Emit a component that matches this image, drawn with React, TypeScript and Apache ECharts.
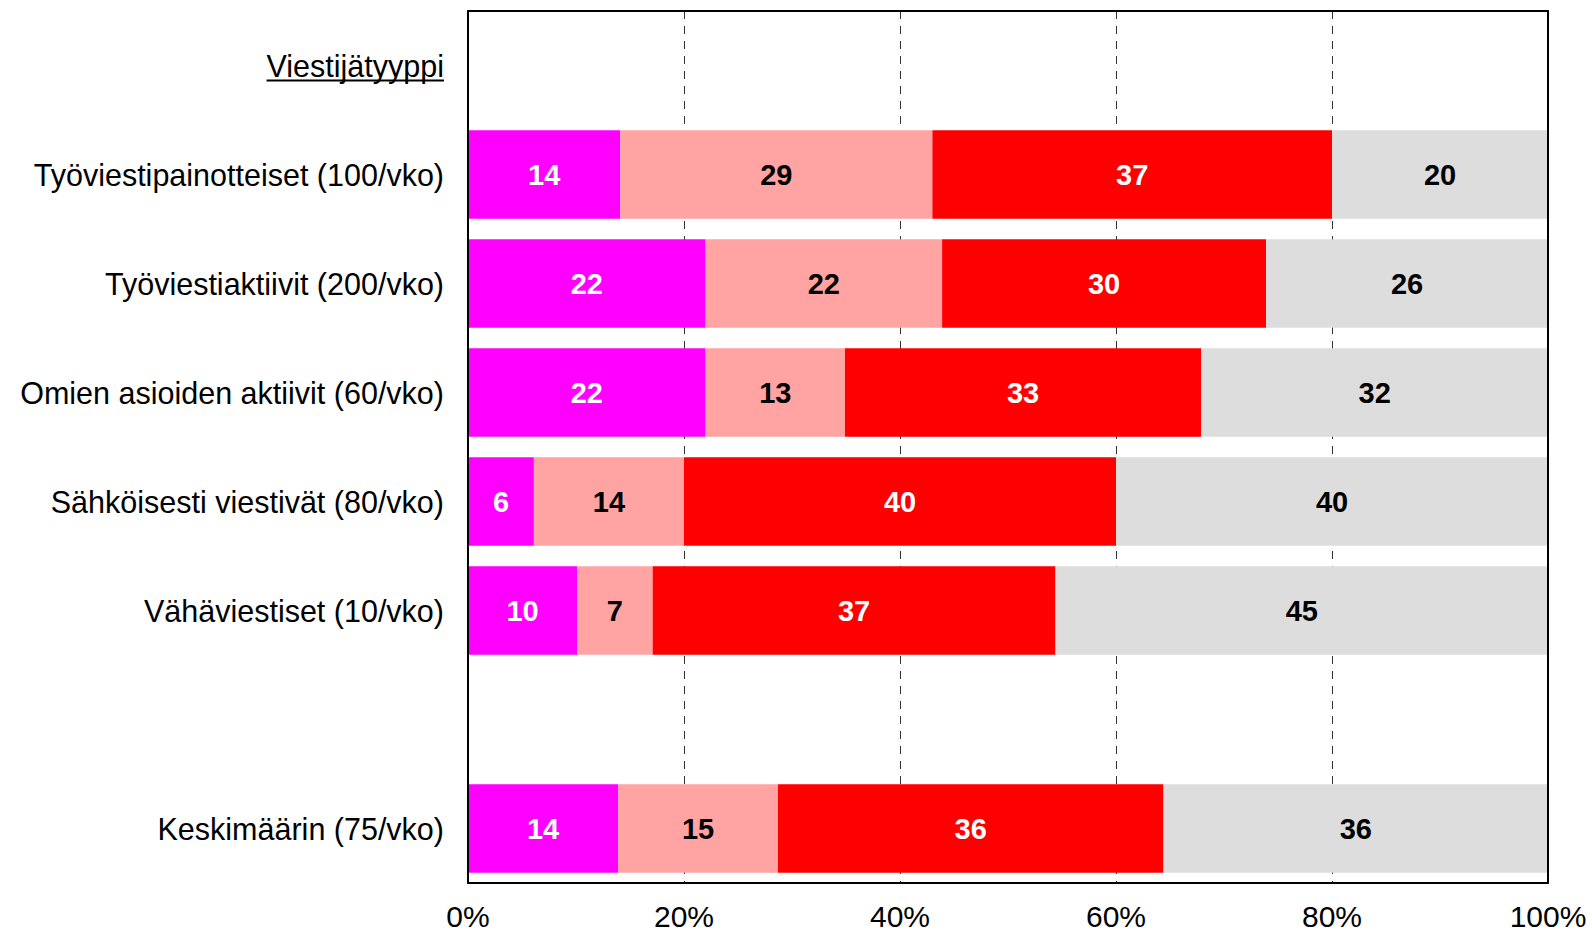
import React, { useEffect, useRef } from "react";
import * as echarts from "echarts";

const categories = [
  "Viestijätyyppi",
  "Työviestipainotteiset (100/vko)",
  "Työviestiaktiivit (200/vko)",
  "Omien asioiden aktiivit (60/vko)",
  "Sähköisesti viestivät (80/vko)",
  "Vähäviestiset (10/vko)",
  "",
  "Keskimäärin (75/vko)",
];

// bar lengths (percent of row)
const share1 = [null, 14.1, 22.0, 22.0, 6.1, 10.1, null, 13.9];
const share2 = [null, 28.9, 21.9, 12.9, 13.9, 7.0, null, 14.8];
const share3 = [null, 37.0, 30.0, 33.0, 40.0, 37.3, null, 35.7];
const share4 = [null, 20.0, 26.1, 32.1, 40.0, 45.6, null, 35.6];

// printed labels
const label1 = [null, 14, 22, 22, 6, 10, null, 14];
const label2 = [null, 29, 22, 13, 14, 7, null, 15];
const label3 = [null, 37, 30, 33, 40, 37, null, 36];
const label4 = [null, 20, 26, 32, 40, 45, null, 36];

const xTicks = [0, 20, 40, 60, 80, 100];

const FONT = '"Liberation Sans", Arial, Helvetica, sans-serif';
const GRID_LEFT = 468;
const GRID_RIGHT = 44;
const GRID_TOP = 11;
const GRID_BOTTOM = 47;
const LABEL_MARGIN = 24;
const CAT_FONT = 30.5;

const seriesDefs = [
  { name: "s1", data: share1, labels: label1, color: "#FF00FF", text: "#FFFFFF" },
  { name: "s2", data: share2, labels: label2, color: "#FFA3A3", text: "#000000" },
  { name: "s3", data: share3, labels: label3, color: "#FF0000", text: "#FFFFFF" },
  { name: "s4", data: share4, labels: label4, color: "#DDDDDD", text: "#000000" },
];

export default function App() {
  const ref = useRef<HTMLDivElement>(null);

  useEffect(() => {
    if (!ref.current) return;
    const chart = echarts.init(ref.current, null, { renderer: "svg" });

    const frameAxisX = (position: "top" | "bottom") => ({
      type: "value",
      position,
      min: xTicks[0],
      max: xTicks[xTicks.length - 1],
      interval: 20,
      z: 10,
      axisLine: { show: true, onZero: false, lineStyle: { color: "#000", width: 2 } },
      axisTick: { show: false },
      axisLabel: { show: false },
      splitLine: { show: false },
    });

    chart.setOption({
      animation: false,
      backgroundColor: "#FFFFFF",
      grid: {
        left: GRID_LEFT,
        right: GRID_RIGHT,
        top: GRID_TOP,
        bottom: GRID_BOTTOM,
        containLabel: false,
      },
      xAxis: [
        {
          type: "value",
          position: "bottom",
          min: xTicks[0],
          max: xTicks[xTicks.length - 1],
          interval: 20,
          axisLine: { show: false },
          axisTick: { show: false },
          axisLabel: {
            formatter: "{value}%",
            color: "#000",
            fontFamily: FONT,
            fontSize: 30,
            margin: 18,
          },
          splitLine: {
            show: true,
            lineStyle: { color: "#333", width: 1, type: [8, 7] },
          },
        },
        frameAxisX("bottom"),
        frameAxisX("top"),
      ],
      yAxis: [
        {
          type: "category",
          data: categories,
          inverse: true,
          position: "left",
          z: 10,
          axisLine: { show: true, onZero: false, lineStyle: { color: "#000", width: 2 } },
          axisTick: { show: false },
          axisLabel: {
            color: "#000",
            fontFamily: FONT,
            fontSize: CAT_FONT,
            margin: LABEL_MARGIN,
            interval: 0,
          },
          splitLine: { show: false },
        },
        {
          type: "category",
          data: categories,
          inverse: true,
          position: "right",
          z: 10,
          axisLine: { show: true, onZero: false, lineStyle: { color: "#000", width: 2 } },
          axisTick: { show: false },
          axisLabel: { show: false },
          splitLine: { show: false },
        },
      ],
      series: seriesDefs.map((s) => ({
        name: s.name,
        type: "bar",
        stack: "total",
        xAxisIndex: 0,
        yAxisIndex: 0,
        barCategoryGap: "19%",
        data: s.data,
        itemStyle: { color: s.color },
        label: {
          show: true,
          position: "inside",
          color: s.text,
          fontFamily: FONT,
          fontWeight: "bold",
          fontSize: 29,
          formatter: (p: any) => {
            const v = s.labels[p.dataIndex];
            return v === null || v === undefined ? "" : String(v);
          },
        },
      })),
    });

    // underline under the header label
    const canvas = document.createElement("canvas");
    const ctx = canvas.getContext("2d");
    let w = 178;
    if (ctx) {
      ctx.font = `${CAT_FONT}px ${FONT}`;
      w = ctx.measureText(categories[0]).width;
    }
    const yc = chart.convertToPixel({ yAxisIndex: 0 }, categories[0]) as number;
    const right = GRID_LEFT - LABEL_MARGIN;
    const uy = yc + 15;
    chart.setOption({
      graphic: [
        {
          type: "line",
          shape: { x1: right - w, y1: uy, x2: right, y2: uy },
          style: { stroke: "#000", lineWidth: 2 },
          z: 20,
        },
      ],
    });

    return () => {
      chart.dispose();
    };
  }, []);

  return (
    <div
      ref={ref}
      style={{ position: "absolute", left: 0, top: 0, width: 1592, height: 931 }}
    />
  );
}
